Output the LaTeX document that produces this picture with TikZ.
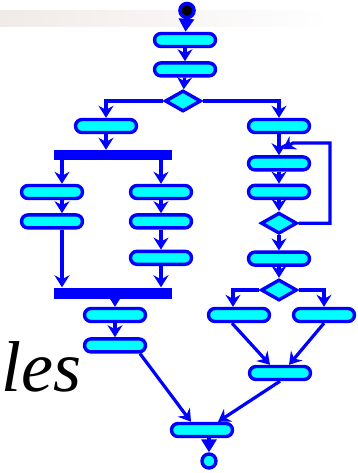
\documentclass[tikz,border=0pt]{standalone}
\usepackage{fontspec}
\setmainfont{Liberation Serif}
\usetikzlibrary{positioning, arrows.meta, calc, shapes.geometric, shapes.misc}
\definecolor{aqua}{RGB}{0,255,255}
\definecolor{deepblue}{RGB}{0,0,255}

\begin{document}
\begin{tikzpicture}[x=1pt, y=-1pt]
	% Define styles
	\tikzset{
		act/.style={rounded rectangle, draw=deepblue, fill=aqua, line width=3.4pt, minimum width=61pt, minimum height=13pt, inner sep=0pt},
		choice/.style={diamond, draw=deepblue, fill=aqua, line width=3.4pt, minimum width=36pt, minimum height=21pt, inner sep=0pt},
		bar/.style={rectangle, fill=deepblue, minimum width=118pt, minimum height=10pt, inner sep=0pt},
		line/.style={draw=deepblue, line width=3.2pt, -{Stealth[length=12pt, width=15pt, inset=4pt]}},
		pin/.style={draw=deepblue, line width=3.2pt, -{Triangle[length=13pt, width=15pt]}}
	}
	\useasboundingbox (0,0) rectangle (357,473);
	\shade[left color={rgb,255:red,240;green,235;blue,233}, right color=white] (0,11) rectangle (330,27);

	% Nodes
	\node[circle, draw=deepblue, fill=black, line width=3.6pt, minimum size=14pt, inner sep=0pt] (start) at (187,10.5) {};
	\node[act] (a1) at (185,40) {};
	\node[act, below=13pt of a1] (a2) {};
	\node[choice] (d1) at (183,101) {};

	\node[act] (l1) at (106,126) {};
	\node[bar] (fork) at (113,155) {};
	\node[act] (ll1) at (52,192) {};
	\node[act, below=13pt of ll1] (ll2) {};
	\node[act] (ml1) at (161,192) {};
	\node[act, below=13pt of ml1] (ml2) {};
	\node[act, below=20pt of ml2] (ml3) {};
	\node[bar, minimum height=11pt] (join) at (113,293) {};
	\node[act] (m1) at (115,315) {};
	\node[act, below=14pt of m1] (m2) {};

	\node[act] (r1) at (279,126) {};
	\node[act, below=21pt of r1] (r2) {};
	\node[act, below=12pt of r2] (r3) {};
	\node[choice, below=11pt of r3] (d2) {};
	\node[act, below=15pt of d2] (r4) {};
	\node[choice, below=11pt of r4] (d3) {};
	\node[act] (r5a) at (239,315) {};
	\node[act] (r5b) at (324,315) {};
	\node[act] (r6) at (280,373) {};

	\node[act] (e1) at (202,430) {};
	\node[circle, draw=deepblue, fill=aqua, line width=3.4pt, minimum size=14pt, inner sep=0pt] (stop) at (209,461) {};

	\coordinate (corner) at (330,143);
	\coordinate (back) at (283,149);

	\node[anchor=base west, inner sep=0pt, font=\fontsize{72}{72}\selectfont\itshape] (word) at (1,391) {les};

	% Arrows
	\path [pin] (start) -- (a1);
	\path [line] (a1) -- (a2);
	\path [line] (a2) -- (d1);
	\path [line] (d1.west) -| (l1.north);
	\path [line] (d1.east) -| (r1.north);

	\path [line] (l1.south) -- (l1.south |- fork.north);
	\path [line] ([xshift=10pt]ll1.north |- fork.south) -- ([xshift=10pt]ll1.north);
	\path [line] (ml1.north |- fork.south) -- (ml1.north);
	\path [line] ([xshift=10pt]ll1.south) -- ([xshift=10pt]ll2.north);
	\path [line] (ml1) -- (ml2);
	\path [line] (ml2) -- (ml3);
	\path [line] ([xshift=10pt]ll2.south) -- ([xshift=10pt]ll2.south |- join.north);
	\path [line] (ml3.south) -- (ml3.south |- join.north);
	\path [line] (m1.north |- join.south) -- (m1.north);
	\path [line] (m1) -- (m2);
	\path [line] ([xshift=25pt]m2.south) -- ([xshift=-11pt]e1.north);

	\path [line] (r1) -- (r2);
	\path [line] (r2) -- (r3);
	\path [line] (r3) -- (d2);
	\path [line] (d2) -- (r4);
	\path [line] (r4) -- (d3);
	\path [line] (d2.east) -| (corner) -- ([xshift=10pt]back |- corner) -- (back);
	\path [line] (d3.west) -| ([xshift=-6pt]r5a.north);
	\path [line] (d3.east) -| (r5b.north);
	\path [line] ([xshift=-7pt]r5a.south) -- ([xshift=-10pt]r6.north);
	\path [line] (r5b.south) -- ([xshift=9pt]r6.north);
	\path [line] (r6.south) -- ([xshift=16pt]e1.north);

	\path [pin] ([xshift=7pt]e1.south) -- (stop);
\end{tikzpicture}
\end{document}
